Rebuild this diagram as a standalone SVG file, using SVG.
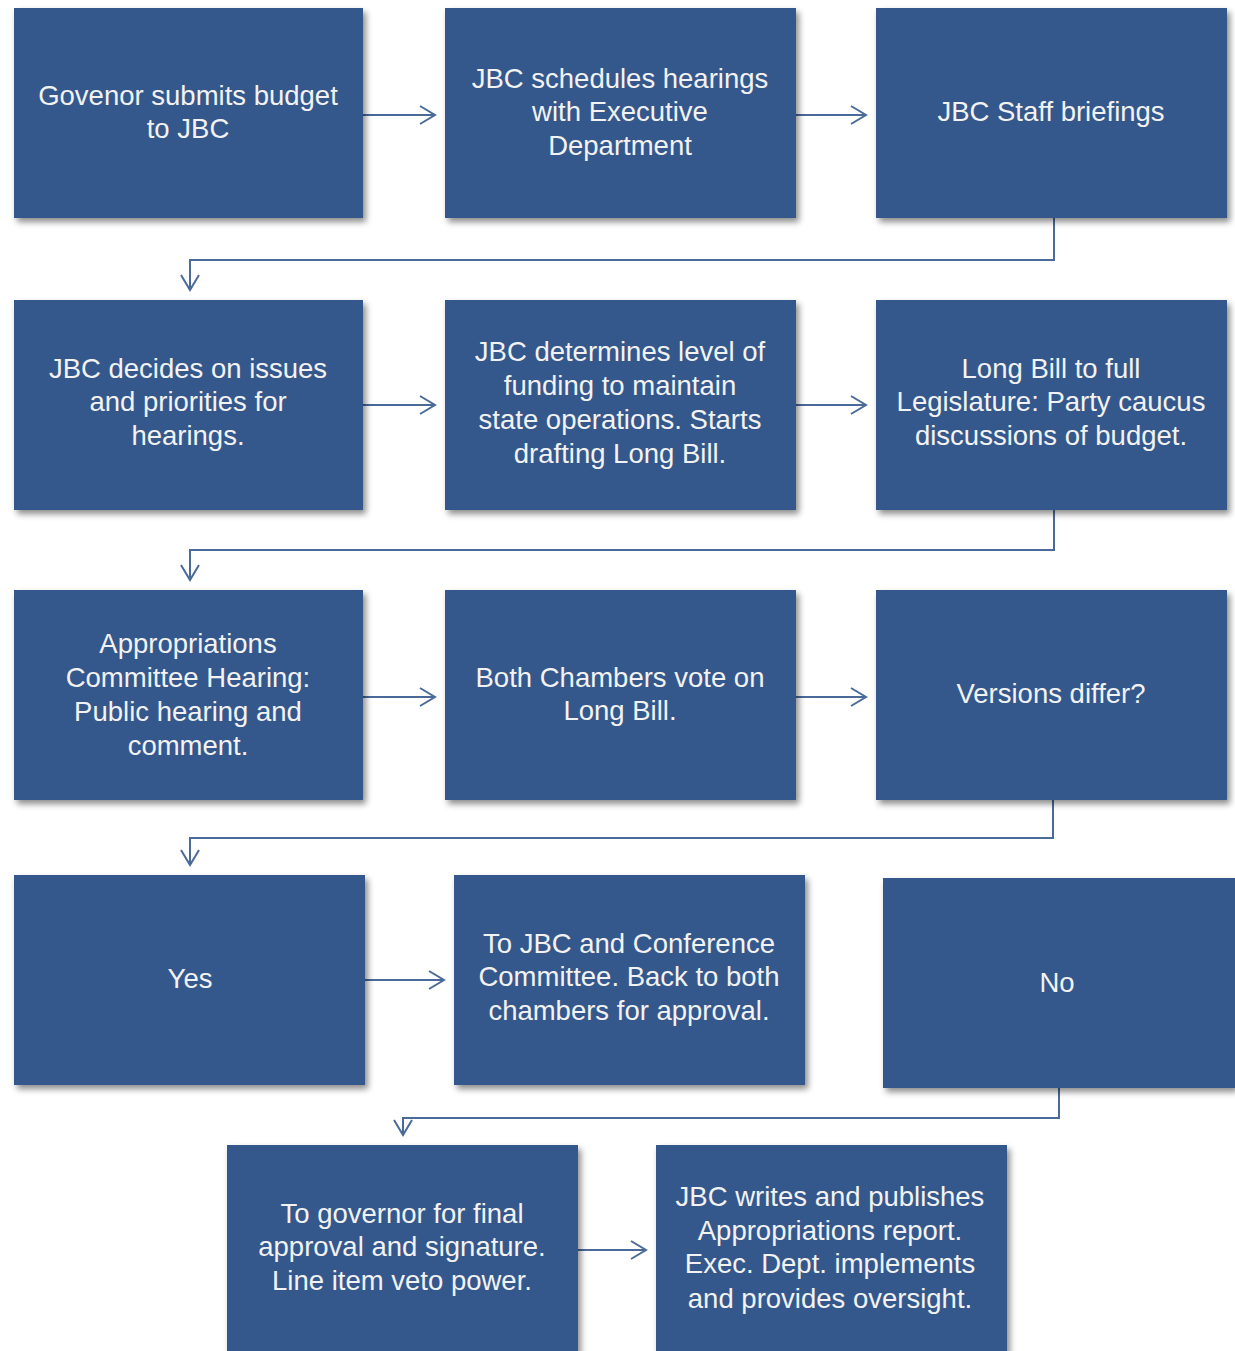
<svg xmlns="http://www.w3.org/2000/svg" width="1235" height="1351" viewBox="0 0 1235 1351">
<style>
.box{fill:#34588C;filter:url(#sh)}
.t{font-family:"Liberation Sans",Arial,sans-serif;font-size:27.5px;fill:#F2F2F2;text-anchor:middle}
.c{fill:none;stroke:#4A6A9A;stroke-width:2}
</style>
<defs>
<filter id="sh" x="-10%" y="-10%" width="125%" height="125%">
<feDropShadow dx="3" dy="4" stdDeviation="3" flood-color="#000" flood-opacity="0.45"/>
</filter>
<marker id="ah" viewBox="0 0 22 22" refX="20" refY="11" markerWidth="22" markerHeight="22" markerUnits="userSpaceOnUse" orient="auto">
<path d="M5,2 L20,11 L5,20" fill="none" stroke="#4A6A9A" stroke-width="2"/>
</marker>
</defs>
<rect width="1235" height="1351" fill="#fff"/>
<g id="connectors">
<path class="c" marker-end="url(#ah)" d="M363,115 H435"/>
<path class="c" marker-end="url(#ah)" d="M796,115 H866"/>
<path class="c" marker-end="url(#ah)" d="M1054,218 V260 H190 V290"/>
<path class="c" marker-end="url(#ah)" d="M363,405 H435"/>
<path class="c" marker-end="url(#ah)" d="M796,405 H866"/>
<path class="c" marker-end="url(#ah)" d="M1054,510 V550 H190 V580"/>
<path class="c" marker-end="url(#ah)" d="M363,697 H435"/>
<path class="c" marker-end="url(#ah)" d="M796,697 H866"/>
<path class="c" marker-end="url(#ah)" d="M1053,800 V838 H190 V865"/>
<path class="c" marker-end="url(#ah)" d="M365,980 H444"/>
<path class="c" marker-end="url(#ah)" d="M1059,1088 V1118 H403 V1135"/>
<path class="c" marker-end="url(#ah)" d="M578,1250 H646"/>
</g>
<g id="n1"><rect class="box" x="14" y="8" width="349" height="210"/>
<text class="t" x="188" y="105">Govenor submits budget</text><text class="t" x="188" y="138">to JBC</text></g>
<g id="n2"><rect class="box" x="445" y="8" width="351" height="210"/>
<text class="t" x="620" y="88">JBC schedules hearings</text><text class="t" x="620" y="121">with Executive</text><text class="t" x="620" y="155">Department</text></g>
<g id="n3"><rect class="box" x="876" y="8" width="351" height="210"/>
<text class="t" x="1051" y="121">JBC Staff briefings</text></g>
<g id="n4"><rect class="box" x="14" y="300" width="349" height="210"/>
<text class="t" x="188" y="378">JBC decides on issues</text><text class="t" x="188" y="411">and priorities for</text><text class="t" x="188" y="445">hearings.</text></g>
<g id="n5"><rect class="box" x="445" y="300" width="351" height="210"/>
<text class="t" x="620" y="361">JBC determines level of</text><text class="t" x="620" y="395">funding to maintain</text><text class="t" x="620" y="429">state operations. Starts</text><text class="t" x="620" y="463">drafting Long Bill.</text></g>
<g id="n6"><rect class="box" x="876" y="300" width="351" height="210"/>
<text class="t" x="1051" y="378">Long Bill to full</text><text class="t" x="1051" y="411">Legislature: Party caucus</text><text class="t" x="1051" y="445">discussions of budget.</text></g>
<g id="n7"><rect class="box" x="14" y="590" width="349" height="210"/>
<text class="t" x="188" y="653">Appropriations</text><text class="t" x="188" y="687">Committee Hearing:</text><text class="t" x="188" y="721">Public hearing and</text><text class="t" x="188" y="755">comment.</text></g>
<g id="n8"><rect class="box" x="445" y="590" width="351" height="210"/>
<text class="t" x="620" y="687">Both Chambers vote on</text><text class="t" x="620" y="720">Long Bill.</text></g>
<g id="n9"><rect class="box" x="876" y="590" width="351" height="210"/>
<text class="t" x="1051" y="703">Versions differ?</text></g>
<g id="n10"><rect class="box" x="14" y="875" width="351" height="210"/>
<text class="t" x="190" y="988">Yes</text></g>
<g id="n11"><rect class="box" x="454" y="875" width="351" height="210"/>
<text class="t" x="629" y="953">To JBC and Conference</text><text class="t" x="629" y="986">Committee. Back to both</text><text class="t" x="629" y="1020">chambers for approval.</text></g>
<g id="n12"><rect class="box" x="883" y="878" width="352" height="210"/>
<text class="t" x="1057" y="992">No</text></g>
<g id="n13"><rect class="box" x="227" y="1145" width="351" height="215"/>
<text class="t" x="402" y="1223">To governor for final</text><text class="t" x="402" y="1256">approval and signature.</text><text class="t" x="402" y="1290">Line item veto power.</text></g>
<g id="n14"><rect class="box" x="656" y="1145" width="351" height="215"/>
<text class="t" x="830" y="1206">JBC writes and publishes</text><text class="t" x="830" y="1240">Appropriations report.</text><text class="t" x="830" y="1273">Exec. Dept. implements</text><text class="t" x="830" y="1308">and provides oversight.</text></g>
</svg>
